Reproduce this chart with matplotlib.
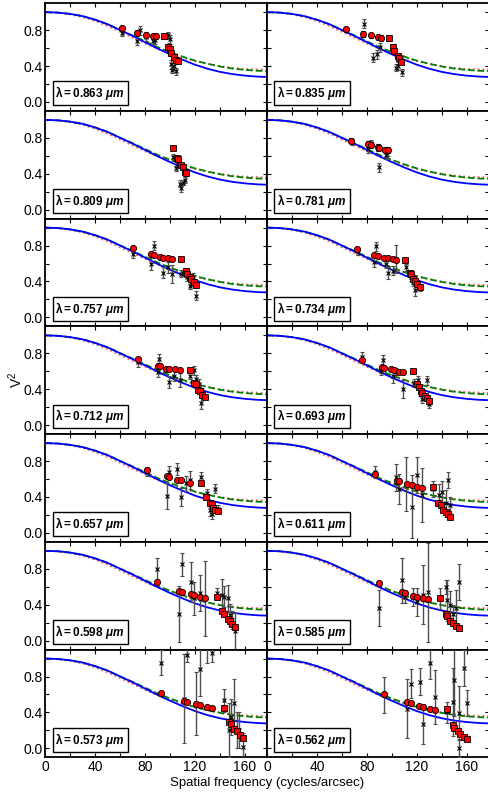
import matplotlib
matplotlib.use("Agg")
import matplotlib.pyplot as plt
from matplotlib.ticker import MultipleLocator

# wavelength of each panel (left/right, top to bottom)
wavelengths = ["0.863", "0.835", "0.809", "0.781", "0.757", "0.734", "0.712",
               "0.693", "0.657", "0.611", "0.598", "0.585", "0.573", "0.562"]

# model curves (same in every panel)
model_u = [0, 10, 20, 30, 40, 50, 60, 70, 80, 90, 100, 110, 120, 130, 140, 150, 160, 170, 180]
model_blue = [1.0, 0.995, 0.98, 0.955, 0.915, 0.865, 0.80, 0.735, 0.665, 0.595, 0.53,
              0.47, 0.415, 0.37, 0.335, 0.31, 0.293, 0.282, 0.277]
model_green = [1.0, 0.995, 0.98, 0.955, 0.915, 0.865, 0.80, 0.74, 0.675, 0.61, 0.555,
               0.505, 0.46, 0.425, 0.395, 0.372, 0.357, 0.347, 0.343]
model_red = [1.0, 0.993, 0.975, 0.945, 0.90, 0.845, 0.78, 0.715, 0.65, 0.59, 0.54,
             0.495, 0.455, 0.425, 0.40, 0.38, 0.368, 0.362, 0.36]

# red (averaged) points; markers switch from circles to squares at red_sq
red_u = [
    [61.6, 73.8, 81, 86, 88.6, 95.4, 98, 100, 101, 103, 104.5, 106],
    [63.4, 76.7, 83.3, 88.6, 91.2, 97.9, 100.6, 102, 104.6, 106, 107.4],
    [102, 105.4, 106.2, 109, 110.3, 112, 113],
    [67.4, 80.7, 83.1, 88.6, 90, 94.7, 97.1],
    [70.3, 84.6, 86.8, 92, 94, 98, 101.3, 108.9, 112.4, 113.8, 115.7, 117, 118.9, 120.5],
    [71.9, 86, 88.6, 94, 96.6, 100.6, 103.2, 110.7, 114.4, 115.7, 116.7, 118.4, 120.5, 122.4],
    [74.6, 90, 92.2, 96.7, 99.4, 104, 107.6, 115.7, 119, 120.5, 122.4, 123.8, 126, 127.8],
    [76.2, 91.8, 94, 99.3, 101.9, 105.4, 109, 117.3, 120.5, 121.8, 123.2, 124.5, 126.3, 128, 129.6],
    [81.1, 97.3, 99.5, 105.7, 108.4, 116.2, 125.1, 129.2, 131.9, 133.3, 134.7, 136, 138.7],
    [86.5, 103.8, 106, 112.5, 116, 120.5, 124, 133, 137.2, 139.1, 141.2, 143.1, 145.1, 147],
    [89.2, 107, 109.7, 116.5, 119.2, 124.3, 127.8, 137.9, 141.9, 143.3, 146.2, 148, 149.9, 152],
    [90, 108, 110.7, 117.3, 120, 125.3, 129, 138.5, 143.1, 144.4, 147, 148.8, 151.5, 153.6],
    [93, 111.1, 113.8, 121.1, 123.8, 129.8, 133.3, 143.2, 147.6, 149, 151.6, 153.5, 156.2, 158.4],
    [94, 112.5, 115.2, 121.8, 125, 130.6, 134.3, 144.4, 148.9, 150.2, 153.1, 155, 157.6, 160.3],
]
red_v = [
    [0.82, 0.77, 0.75, 0.73, 0.73, 0.73, 0.61, 0.59, 0.54, 0.50, 0.47, 0.46],
    [0.81, 0.755, 0.74, 0.72, 0.71, 0.71, 0.61, 0.57, 0.51, 0.49, 0.45],
    [0.69, 0.57, 0.56, 0.50, 0.47, 0.42, 0.41],
    [0.77, 0.73, 0.72, 0.70, 0.69, 0.67, 0.66],
    [0.77, 0.71, 0.70, 0.67, 0.66, 0.66, 0.65, 0.65, 0.52, 0.485, 0.45, 0.43, 0.39, 0.36],
    [0.76, 0.69, 0.68, 0.66, 0.66, 0.645, 0.635, 0.635, 0.50, 0.48, 0.43, 0.41, 0.37, 0.34],
    [0.74, 0.66, 0.66, 0.63, 0.63, 0.62, 0.61, 0.615, 0.47, 0.46, 0.39, 0.375, 0.335, 0.31],
    [0.73, 0.65, 0.64, 0.62, 0.61, 0.59, 0.59, 0.60, 0.46, 0.43, 0.385, 0.355, 0.33, 0.30, 0.27],
    [0.70, 0.63, 0.62, 0.59, 0.585, 0.56, 0.56, 0.40, 0.33, 0.32, 0.28, 0.26, 0.245],
    [0.66, 0.58, 0.575, 0.54, 0.53, 0.51, 0.50, 0.51, 0.33, 0.31, 0.25, 0.235, 0.21, 0.18],
    [0.65, 0.555, 0.545, 0.52, 0.51, 0.49, 0.48, 0.49, 0.33, 0.30, 0.24, 0.22, 0.18, 0.155],
    [0.64, 0.545, 0.535, 0.50, 0.49, 0.47, 0.46, 0.47, 0.30, 0.27, 0.22, 0.20, 0.165, 0.14],
    [0.62, 0.53, 0.52, 0.49, 0.48, 0.46, 0.45, 0.45, 0.29, 0.27, 0.21, 0.19, 0.15, 0.12],
    [0.61, 0.52, 0.505, 0.47, 0.46, 0.44, 0.43, 0.435, 0.255, 0.23, 0.19, 0.16, 0.13, 0.10],
]
red_sq = [5, 5, 0, 7, 7, 7, 7, 7, 6, 7, 7, 7, 7, 7]
red_err = [0.03, 0.03, 0.02, 0.03, 0.02, 0.02, 0.02, 0.02, 0.02, 0.02, 0.02, 0.02, 0.02, 0.02]

# individual measurements (black crosses with grey error bars)
x_u = [
    [61.6, 73.8, 76, 81, 86, 88, 98, 100, 99.5, 100.5, 101.5, 103, 104.8],
    [78, 76.7, 84.6, 88, 90.6, 100.6, 103.2, 105, 108],
    [102, 104.8, 106, 108, 109, 110.7, 112],
    [68, 80.7, 83, 90, 88.6, 95, 97],
    [70.3, 86.8, 84.6, 94, 98, 101.3, 108.9, 113.8, 115.7, 117, 118.4, 120.5],
    [72.7, 87.3, 86, 95.5, 96.6, 100.6, 103.2, 111.2, 115, 117, 118.7, 122.4],
    [74.6, 91.4, 90, 99.4, 103.5, 107.6, 115.7, 119, 120.5, 122.9, 124.5, 126],
    [76.2, 92.6, 91.2, 100.6, 103.2, 109, 117.8, 121, 122.4, 124.5, 128.5, 129.6],
    [81.1, 97.3, 99.5, 105.7, 108.4, 113, 116.2, 125.1, 129.7, 131.9, 133.3, 136, 138.7],
    [86.5, 103.2, 106, 111.7, 116, 119.9, 124, 133, 137.7, 140.5, 143.1, 145.1, 147],
    [89.2, 107, 109.7, 116.5, 119.2, 124.3, 127.8, 137.9, 141.9, 143.6, 146.2, 148, 149.9, 152],
    [90, 108, 110.7, 117.3, 120, 125.3, 129, 138.5, 143.6, 144.4, 147, 148.8, 151.5, 153.6],
    [93, 111.1, 113.8, 121.1, 124.3, 129.5, 133.3, 143.2, 147.6, 149, 151.6, 153.5, 155.7, 158.4],
    [94, 112.5, 115.2, 122.4, 125, 130.6, 134.3, 144.4, 148.9, 150, 153.6, 154, 157.6, 160.3],
]
x_v = [
    [0.77, 0.68, 0.80, 0.72, 0.68, 0.69, 0.74, 0.70, 0.62, 0.42, 0.36, 0.40, 0.34],
    [0.87, 0.75, 0.49, 0.53, 0.61, 0.57, 0.38, 0.40, 0.33],
    [0.59, 0.46, 0.51, 0.29, 0.24, 0.30, 0.33],
    [0.755, 0.68, 0.74, 0.475, 0.68, 0.61, 0.65],
    [0.71, 0.80, 0.60, 0.50, 0.56, 0.485, 0.485, 0.45, 0.355, 0.39, 0.45, 0.24],
    [0.73, 0.79, 0.62, 0.60, 0.50, 0.52, 0.65, 0.56, 0.45, 0.39, 0.30, 0.33],
    [0.70, 0.74, 0.59, 0.48, 0.55, 0.50, 0.55, 0.61, 0.51, 0.46, 0.25, 0.37],
    [0.76, 0.72, 0.60, 0.55, 0.60, 0.40, 0.47, 0.50, 0.37, 0.29, 0.50, 0.235],
    [0.68, 0.41, 0.68, 0.71, 0.40, 0.55, 0.585, 0.62, 0.44, 0.25, 0.21, 0.49, 0.27],
    [0.68, 0.62, 0.49, 0.54, 0.29, 0.64, 0.42, 0.49, 0.42, 0.455, 0.33, 0.585, 0.31],
    [0.80, 0.30, 0.85, 0.65, 0.47, 0.53, 0.47, 0.53, 0.51, 0.49, 0.47, 0.285, 0.23, 0.11],
    [0.36, 0.67, 0.49, 0.49, 0.43, 0.51, 0.54, 0.47, 0.60, 0.45, 0.40, 0.30, 0.36, 0.655],
    [0.955, 0.555, 1.04, 0.50, 0.88, 1.15, 1.06, 0.535, 0.20, 0.35, 0.50, 0.20, 0.20, 0.02],
    [0.59, 0.44, 0.72, 0.74, 0.27, 0.95, 0.57, 0.40, 0.52, 0.76, 0.39, 0.005, 0.89, 0.505],
]
x_err = [
    [0.04, 0.05, 0.05, 0.04, 0.04, 0.04, 0.04, 0.05, 0.04, 0.05, 0.04, 0.04, 0.04],
    [0.05, 0.03, 0.05, 0.05, 0.05, 0.04, 0.04, 0.04, 0.04],
    [0.03, 0.03, 0.03, 0.04, 0.04, 0.03, 0.03],
    [0.03, 0.05, 0.04, 0.05, 0.03, 0.05, 0.05],
    [0.05, 0.05, 0.07, 0.06, 0.06, 0.10, 0.04, 0.04, 0.04, 0.04, 0.04, 0.05],
    [0.03, 0.05, 0.06, 0.05, 0.07, 0.05, 0.16, 0.04, 0.04, 0.04, 0.06, 0.04],
    [0.05, 0.05, 0.05, 0.07, 0.06, 0.08, 0.04, 0.05, 0.05, 0.05, 0.07, 0.04],
    [0.06, 0.06, 0.04, 0.08, 0.04, 0.10, 0.04, 0.05, 0.04, 0.04, 0.05, 0.04],
    [0.05, 0.14, 0.06, 0.07, 0.10, 0.08, 0.10, 0.06, 0.05, 0.06, 0.06, 0.05, 0.04],
    [0.07, 0.15, 0.17, 0.30, 0.35, 0.20, 0.30, 0.09, 0.12, 0.12, 0.15, 0.09, 0.09],
    [0.12, 0.31, 0.13, 0.22, 0.18, 0.20, 0.42, 0.06, 0.18, 0.12, 0.15, 0.12, 0.10, 0.20],
    [0.20, 0.25, 0.07, 0.10, 0.16, 0.33, 0.55, 0.12, 0.08, 0.23, 0.15, 0.10, 0.20, 0.20],
    [0.14, 0.50, 0.08, 0.35, 0.30, 0.20, 0.10, 0.13, 0.30, 0.20, 0.27, 0.20, 0.20, 0.15],
    [0.20, 0.33, 0.16, 0.15, 0.22, 0.18, 0.30, 0.12, 0.38, 0.40, 0.30, 0.10, 0.20, 0.15],
]

plt.rcParams["font.family"] = ["Liberation Sans", "DejaVu Sans"]
plt.rcParams["mathtext.fontset"] = "custom"
plt.rcParams["mathtext.rm"] = "Liberation Sans"
plt.rcParams["mathtext.bf"] = "Liberation Sans:bold"
plt.rcParams["mathtext.it"] = "Liberation Sans:italic:bold"

fig, axes = plt.subplots(7, 2, figsize=(4.89, 7.93), dpi=100, sharex=True, sharey=True)
fig.subplots_adjust(left=0.093, right=1.0, bottom=0.045, top=0.996, hspace=0, wspace=0)

for i, ax in enumerate(axes.flat):
    ax.plot(model_u, model_red, color="#ff6060", ls=":", lw=1.3, zorder=2)
    ax.plot(model_u, model_green, color="#008000", ls="--", lw=1.3, zorder=2)
    ax.plot(model_u, model_blue, color="blue", ls="-", lw=1.3, zorder=2)

    ax.errorbar(x_u[i], x_v[i], yerr=x_err[i], fmt="x", color="black", ms=3, mew=0.8,
                ecolor="0.3", elinewidth=1.0, capsize=1.5, capthick=0.8, zorder=3)

    s = red_sq[i]
    ax.errorbar(red_u[i], red_v[i], yerr=red_err[i], fmt="none", ecolor="black",
                elinewidth=0.8, capsize=1.5, capthick=0.8, zorder=4)
    ax.plot(red_u[i][:s], red_v[i][:s], "o", mfc="red", mec="black", mew=0.6, ms=4.5, zorder=5)
    ax.plot(red_u[i][s:], red_v[i][s:], "s", mfc="red", mec="black", mew=0.6, ms=4.2, zorder=5)

    ax.text(0.045, 0.08, r"$\mathbf{\lambda = %s}\ \mathit{\mu m}$" % wavelengths[i],
            transform=ax.transAxes, fontsize=8.5, va="bottom", ha="left",
            bbox=dict(boxstyle="square,pad=0.25", fc="white", ec="black", lw=1.0))

    ax.set_xlim(0, 178)
    ax.set_ylim(-0.1, 1.1)
    ax.xaxis.set_major_locator(MultipleLocator(40))
    ax.xaxis.set_minor_locator(MultipleLocator(20))
    ax.yaxis.set_major_locator(MultipleLocator(0.4))
    ax.yaxis.set_minor_locator(MultipleLocator(0.2))
    ax.tick_params(which="both", direction="in", top=True, right=True, length=3, width=0.8,
                   labelsize=10, pad=2)
    for sp in ax.spines.values():
        sp.set_linewidth(1.3)

for ax in axes[:, 0]:
    ax.yaxis.set_major_formatter(plt.FuncFormatter(lambda v, p: "%.1f" % v))

fig.text(0.546, 0.012, "Spatial frequency (cycles/arcsec)", ha="center", va="center", fontsize=9.5)
fig.text(0.032, 0.521, "V$^2$", ha="center", va="center", rotation=90, fontsize=10)

fig.savefig("out.png", dpi=100)
